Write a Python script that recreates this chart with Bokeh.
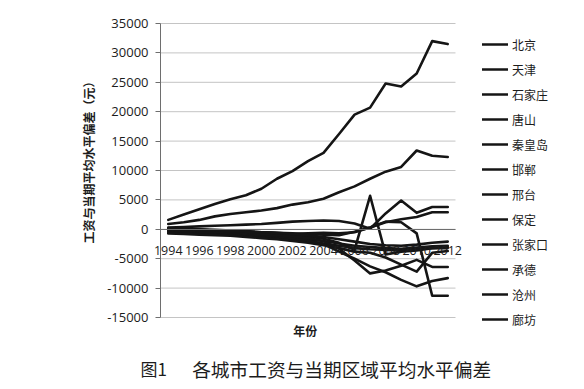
import math
from bokeh.plotting import figure
from bokeh.models import Range1d, FixedTicker, Legend, LegendItem, Label
from bokeh.embed import file_html
from bokeh.resources import INLINE

years = list(range(1994, 2013))
x_tick_years = list(range(1994, 2013, 2))
y_ticks = list(range(-15000, 35001, 5000))

city_names = ["北京", "天津", "石家庄", "唐山", "秦皇岛", "邯郸",
              "邢台", "保定", "张家口", "承德", "沧州", "廊坊"]

beijing      = [1600, 2500, 3400, 4300, 5100, 5800, 6900, 8600, 9900, 11600, 13000, 16200, 19500, 20700, 24800, 24300, 26500, 32000, 31500]
tianjin      = [900, 1200, 1600, 2200, 2600, 2900, 3200, 3600, 4200, 4600, 5200, 6300, 7300, 8600, 9800, 10600, 13400, 12500, 12300]
shijiazhuang = [200, 100, 0, -100, -200, -300, -500, -700, -900, -1200, -1600, -2300, -3500, 5700, -4300, -3800, -3600, -3200, -3000]
tangshan     = [300, 400, 500, 600, 700, 800, 900, 1100, 1300, 1400, 1500, 1400, 1000, 100, 2700, 4900, 2800, 3800, 3800]
qinhuangdao  = [0, -100, -200, -300, -400, -500, -600, -700, -800, -700, -600, -700, -500, 300, 1200, 1700, 2100, 2900, 2900]
handan       = [0, 0, -100, -200, -300, -400, -500, -600, -700, -800, -900, -1000, -400, 300, 1300, 1200, -700, -11300, -11300]
xingtai      = [-300, -400, -500, -600, -700, -800, -1000, -1200, -1400, -1700, -2000, -2400, -2800, -3000, -3200, -3300, -3100, -2900, -2800]
baoding      = [-500, -600, -700, -800, -900, -1000, -1200, -1400, -1700, -2000, -2400, -2800, -3200, -3400, -3500, -3600, -3400, -3200, -3200]
zhangjiakou  = [-700, -800, -900, -1000, -1100, -1300, -1500, -1700, -2000, -2300, -2700, -3200, -3800, -4000, -4800, -6000, -7200, -4000, -3700]
chengde      = [-200, -300, -400, -500, -600, -800, -1000, -1200, -1500, -1900, -2500, -3800, -5000, -6300, -7300, -8600, -9700, -8800, -8300]
cangzhou     = [-100, -200, -300, -400, -500, -600, -800, -1000, -1200, -1500, -2000, -3300, -5300, -7500, -7000, -6200, -5200, -6400, -6400]
langfang     = [100, 0, -100, -200, -300, -400, -500, -600, -800, -1000, -1300, -1700, -2100, -2500, -2700, -2800, -2600, -2300, -2100]

series_values = [beijing, tianjin, shijiazhuang, tangshan, qinhuangdao, handan,
                 xingtai, baoding, zhangjiakou, chengde, cangzhou, langfang]

y_title = "工资与当期平均水平偏差（元）"
x_title = "年份"
caption_fig = "图1"
caption_text = "各城市工资与当期区域平均水平偏差"

CJK = "Noto Sans CJK SC"
NUM = "Open Sans"
INK = "#1c1c1c"

# plot-area extent (category band edges and value limits)
X_LO, X_HI = 1993.5, 2012.5
Y_LO, Y_HI = -15000, 35000

# the frame spans the whole canvas; ranges are widened so that the
# category/value area sits where the reference's plot area is
p = figure(width=584, height=389,
           x_range=Range1d(1983.195, 2020.809), y_range=Range1d(-27245, 38912),
           output_backend="svg", toolbar_location=None,
           min_border_left=0, min_border_right=0,
           min_border_top=0, min_border_bottom=0)
p.outline_line_color = None
p.background_fill_color = "white"
p.border_fill_color = "white"
p.xgrid.visible = False
p.ygrid.visible = False

# horizontal gridlines limited to the plot area
p.segment(x0=[X_LO] * len(y_ticks), x1=[X_HI] * len(y_ticks), y0=y_ticks, y1=y_ticks,
          line_color="#c4c4c4", line_width=1)

# y axis at the left edge of the plot area
p.yaxis.fixed_location = X_LO
p.yaxis.bounds = (Y_LO, Y_HI)
p.yaxis.ticker = FixedTicker(ticks=y_ticks)
p.yaxis.major_label_overrides = {t: str(t) for t in y_ticks}
p.yaxis.axis_line_color = "#6e6e6e"
p.yaxis.major_tick_line_color = "#6e6e6e"
p.yaxis.major_tick_out = 5
p.yaxis.major_tick_in = 0
p.yaxis.minor_tick_line_color = None
p.yaxis.major_label_standoff = 7
p.yaxis.major_label_text_font = NUM
p.yaxis.major_label_text_font_size = "13px"
p.yaxis.major_label_text_color = INK

# x axis crossing at zero
p.xaxis.fixed_location = 0
p.xaxis.bounds = (X_LO, X_HI)
p.xaxis.ticker = FixedTicker(ticks=x_tick_years)
p.xaxis.major_label_overrides = {t: str(t) for t in x_tick_years}
p.xaxis.axis_line_color = "#6e6e6e"
p.xaxis.major_tick_out = 0
p.xaxis.major_tick_in = 0
p.xaxis.minor_tick_line_color = None
p.xaxis.major_label_standoff = 17
p.xaxis.major_label_text_font = NUM
p.xaxis.major_label_text_font_size = "12.5px"
p.xaxis.major_label_text_color = INK

items = []
for name, vals in zip(city_names, series_values):
    r = p.line(years, vals, line_color="#151515", line_width=2.6,
               line_join="round", line_cap="round")
    items.append(LegendItem(label=name, renderers=[r]))

legend = Legend(items=items, location=(482, 60), orientation="vertical",
                glyph_width=26, glyph_height=20, label_height=20,
                label_standoff=4, spacing=5, padding=0, margin=0,
                border_line_color=None, background_fill_alpha=0,
                label_text_font=CJK, label_text_font_size="12px",
                label_text_color=INK)
p.add_layout(legend)

p.add_layout(Label(x=1988.86, y=11870, text=y_title, angle=math.pi / 2,
                   text_align="center", text_baseline="middle",
                   text_font=CJK, text_font_size="12px", text_font_style="bold",
                   text_color=INK))
p.add_layout(Label(x=2002.83, y=-17210, text=x_title,
                   text_align="center", text_baseline="middle",
                   text_font=CJK, text_font_size="12px", text_font_style="bold",
                   text_color=INK))
p.add_layout(Label(x=1992.21, y=-23673, text=caption_fig,
                   text_align="left", text_baseline="middle",
                   text_font=CJK, text_font_size="17px", text_color=INK))
p.add_layout(Label(x=1995.54, y=-23673, text=caption_text,
                   text_align="left", text_baseline="middle",
                   text_font=CJK, text_font_size="18.7px", text_color=INK))

open("out.html", "w").write(file_html(p, INLINE))
